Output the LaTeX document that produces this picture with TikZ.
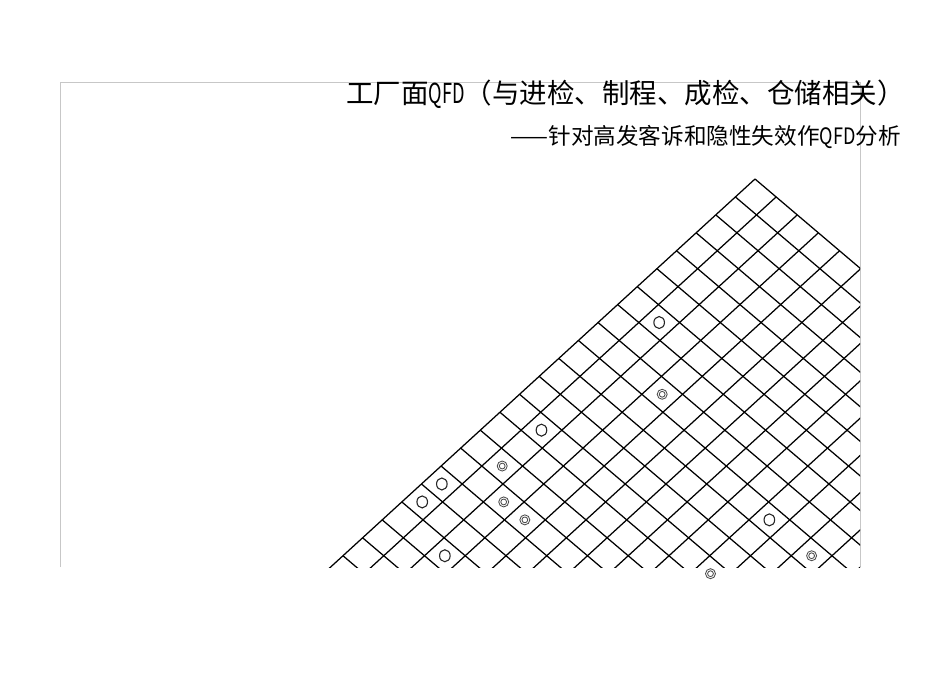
\documentclass[tikz,border=0pt]{standalone}
\usepackage{fontspec}
\usepackage{graphicx}
\newfontfamily\heiti{Noto Sans CJK SC}
\begin{document}
\begin{tikzpicture}[x=1pt,y=-1pt,
        roofline/.style={black,line width=1.25pt},
        frameline/.style={black!22,line width=1pt},
        corrmid/.style={black!85,line width=1.1pt},
        corrstrong/.style={black!70,line width=0.85pt},
        roof/.style={shift={(755,179)},x={(-19.62pt,-17.94pt)},y={(21.13pt,-17.94pt)}}]
    \useasboundingbox (0,0) rectangle (950,672);
    \draw[frameline] (60,567) -- (60,82) -- (860,82) -- (860,567);
    \begin{scope}
        \clip (0,0) rectangle (860,567);
        \begin{scope}[roof]
            \foreach \i in {0,...,22}
                \draw[roofline] (\i,0) -- (\i,26);
            \foreach \j in {0,...,14}
                \draw[roofline] (0,\j) -- (26,\j);
        \end{scope}
    \end{scope}
    \begin{scope}[roof]
        \foreach \i/\j in {6/1,12/1,16/0,17/0,18/2,9/9}
            \draw[corrmid] (\i+0.5,\j+0.5) ellipse [x radius=5.3pt,y radius=6pt];
        \foreach \i/\j in {8/3,14/1,15/2,15/3,9/11,12/9}
            {\draw[corrstrong] (\i+0.5,\j+0.5) circle [radius=5pt];
             \draw[corrstrong] (\i+0.5,\j+0.5) circle [radius=2.9pt];}
    \end{scope}
    \node[anchor=base west,inner sep=0pt,font=\heiti\fontsize{27.5}{30}\selectfont] (title) at (346,103)
        {工厂面\scalebox{0.66}[1]{QFD}（与进检、制程、成检、仓储相关）};
    \node[anchor=base east,inner sep=0pt,font=\heiti\fontsize{22.6}{26}\selectfont] (subtitle) at (901,144.6)
        {——针对高发客诉和隐性失效作\scalebox{0.8}[1]{QFD}分析};
\end{tikzpicture}
\end{document}
